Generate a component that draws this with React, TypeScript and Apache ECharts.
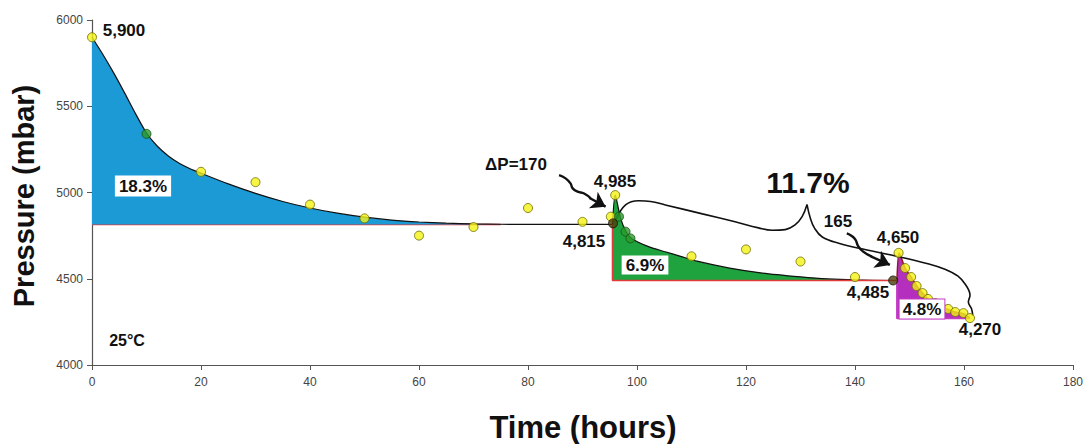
import React, { useEffect, useRef } from "react";
import * as echarts from "echarts";

// ---- data ----
const blueCurve: [number, number][] = [
  [0, 5900], [2, 5800], [4, 5692], [6, 5576], [8, 5456], [10, 5345], [12, 5268], [14, 5212],
  [16, 5170], [18, 5138], [20, 5112], [25, 5050], [30, 4995], [35, 4948], [40, 4910],
  [45, 4880], [50, 4857], [55, 4840], [60, 4829], [65, 4822], [70, 4818], [80, 4815], [95.5, 4815],
];
const greenCurve: [number, number][] = [
  [95.5, 4815], [96, 4985], [97, 4850], [98, 4772], [99, 4734], [102, 4688], [105, 4658],
  [108, 4630], [111, 4602], [117, 4562], [123, 4533], [130, 4511], [135, 4499], [140, 4493], [147, 4490],
];
const magentaCurve: [number, number][] = [
  [147.7, 4490], [148.1, 4650], [149.2, 4562], [150.3, 4510], [151.3, 4460], [152.4, 4417],
  [153.4, 4383], [154.7, 4359], [155.8, 4336], [157.1, 4322], [158.4, 4307], [159.9, 4298], [161.1, 4272],
];
const baseRed1: [number, number][] = [[0, 4815], [75, 4815]];
const greenOutline: [number, number][] = [[95.5, 4815], [95.5, 4490], [147.7, 4490]];
const magentaOutline: [number, number][] = [[147.7, 4490], [147.7, 4270], [161.1, 4270]];

const braceLeft: [number, number][] = [
  [96.1, 4840], [97.9, 4928], [100.3, 4952], [102.5, 4948], [105.2, 4928], [112, 4876],
  [118, 4830], [122.3, 4795], [124.8, 4781], [127.2, 4785], [129, 4812], [130.3, 4860], [131.2, 4930],
];
const braceRight: [number, number][] = [
  [131.2, 4930], [131.8, 4852], [132.6, 4792], [134, 4742], [137, 4706], [142, 4668],
  [148, 4628], [153, 4590], [156.5, 4555], [158.9, 4515], [160.3, 4465], [161.1, 4405],
  [160.8, 4365], [161.4, 4325], [161.6, 4285],
];
const dpShaft: [number, number][] = [
  [85.7, 5101], [86.9, 5082], [87.8, 5053], [88.2, 5024], [89.1, 5005], [90.3, 4994], [91.5, 4966],
];
const dpHead: [number, number][] = [[91.3, 4968], [94.24, 4918]];
const p165Shaft: [number, number][] = [
  [138.5, 4763], [139.4, 4748], [140.1, 4725], [140.6, 4688], [141.5, 4657], [143.1, 4628],
];
const p165Head: [number, number][] = [[142.9, 4630], [146.4, 4580]];

const yellowPoints: [number, number][] = [
  [0, 5900], [20, 5120], [30, 5060], [40, 4930], [50, 4850], [60, 4750], [70, 4800], [80, 4910],
  [90, 4830], [95.2, 4860], [96, 4985], [110, 4630], [120, 4670], [130, 4600], [140, 4510],
  [148, 4650], [149.2, 4562], [150.3, 4510], [151.3, 4458], [152.4, 4417], [153.4, 4383],
  [154.7, 4359], [155.8, 4336], [157.1, 4325], [158.4, 4307], [159.9, 4301], [161.1, 4272],
];
const greenPoints: [number, number][] = [[10, 5340], [96.7, 4860], [97.9, 4773], [98.8, 4734]];
const darkPoints: [number, number][] = [[95.6, 4821], [147, 4490]];

const xMin = 0, xMax = 180, xStep = 20;
const yMin = 4000, yMax = 6000, yStep = 500;

const FONT = '"Liberation Sans", Arial, Helvetica, sans-serif';
const BLUE = "#1B9AD6";
const GREEN = "#1FA33F";
const MAGENTA = "#B52FBF";
const RED = "#E23A3A";

function txt(text: string, x: number, y: number, size: number, extra: any = {}, more: any = {}) {
  return {
    type: "text",
    x,
    y,
    z: 100,
    ...more,
    style: {
      text,
      font: `bold ${size}px ${FONT}`,
      fill: "#111",
      align: "center",
      verticalAlign: "middle",
      ...extra,
    },
  };
}

export default function App() {
  const ref = useRef<HTMLDivElement>(null);
  useEffect(() => {
    if (!ref.current) return;
    const chart = echarts.init(ref.current, undefined, { renderer: "svg" });
    const lineBase = { type: "line", symbol: "none", silent: true, animation: false };
    chart.setOption({
      animation: false,
      backgroundColor: "#fff",
      grid: { left: 92, right: 11, top: 20, bottom: 79 },
      xAxis: {
        type: "value", min: xMin, max: xMax, interval: xStep,
        axisLine: { lineStyle: { color: "#555", width: 1.2 } },
        axisTick: { length: 5, lineStyle: { color: "#555" } },
        axisLabel: { color: "#444", fontSize: 12, fontFamily: FONT, margin: 11, formatter: (v: number) => String(v) },
        splitLine: { show: false },
      },
      yAxis: {
        type: "value", min: yMin, max: yMax, interval: yStep,
        axisLine: { show: true, lineStyle: { color: "#555", width: 1.2 } },
        axisTick: { show: true, length: 5, lineStyle: { color: "#555" } },
        axisLabel: { color: "#444", fontSize: 12, fontFamily: FONT, margin: 9, formatter: (v: number) => String(v) },
        splitLine: { show: false },
      },
      series: [
        { ...lineBase, data: baseRed1, lineStyle: { color: RED, width: 1.5 }, z: 1 },
        {
          ...lineBase, data: blueCurve, smooth: 0.25,
          lineStyle: { color: "#111", width: 1.2 },
          areaStyle: { color: BLUE, opacity: 1, origin: 4815 }, z: 2,
        },
        {
          ...lineBase, data: greenCurve, smooth: 0.25,
          lineStyle: { color: "#111", width: 1.2 },
          areaStyle: { color: GREEN, opacity: 1, origin: 4490 }, z: 2,
        },
        { ...lineBase, data: greenOutline, lineStyle: { color: RED, width: 1.5 }, z: 3 },
        {
          ...lineBase, data: magentaCurve, smooth: 0.25,
          lineStyle: { color: "#8E1B1B", width: 1.5 },
          areaStyle: { color: MAGENTA, opacity: 1, origin: 4270 }, z: 2,
        },
        { ...lineBase, data: magentaOutline, lineStyle: { color: "#C23DC4", width: 1.8 }, z: 3 },
        { ...lineBase, data: braceLeft, smooth: 0.4, lineStyle: { color: "#111", width: 1.6 }, z: 4 },
        { ...lineBase, data: braceRight, smooth: 0.4, lineStyle: { color: "#111", width: 1.6 }, z: 4 },
        { ...lineBase, data: dpShaft, smooth: 0.5, lineStyle: { color: "#111", width: 2.4 }, z: 4 },
        { ...lineBase, data: p165Shaft, smooth: 0.5, lineStyle: { color: "#111", width: 2.4 }, z: 4 },
        {
          type: "lines", coordinateSystem: "cartesian2d", silent: true, z: 4,
          symbol: ["none", "arrow"], symbolSize: 14,
          lineStyle: { color: "#111", width: 2.4, opacity: 1 },
          data: [{ coords: dpHead }, { coords: p165Head }],
        },
        {
          type: "scatter", data: yellowPoints, symbolSize: 9, silent: true, z: 5,
          itemStyle: { color: "#F4F215", borderColor: "#6f6a00", borderWidth: 1 },
        },
        {
          type: "scatter", data: greenPoints, symbolSize: 9, silent: true, z: 5,
          itemStyle: { color: "#2C9A2C", borderColor: "#145214", borderWidth: 1 },
        },
        {
          type: "scatter", data: darkPoints, symbolSize: 9, silent: true, z: 5,
          itemStyle: { color: "#4E3E0A", borderColor: "#111", borderWidth: 1 },
        },
      ],
      graphic: [
        txt("Pressure (mbar)", 24, 196, 29, {}, { rotation: Math.PI / 2 }),
        txt("Time (hours)", 583, 427, 31),
        txt("5,900", 124, 30, 17),
        txt("18.3%", 143, 186, 17, { backgroundColor: "#fff", padding: [3, 4, 1, 4] }),
        txt("25°C", 127, 340, 16),
        txt("ΔP=170", 516, 164, 17),
        txt("4,985", 615, 181, 17),
        txt("4,815", 584, 241, 17),
        txt("6.9%", 645, 265, 17, { backgroundColor: "#fff", padding: [2, 4, 0, 4] }),
        txt("11.7%", 808, 182, 30),
        txt("165", 838, 221, 17),
        txt("4,650", 898, 237, 17),
        txt("4,485", 868, 292, 17),
        txt("4.8%", 922, 309, 17, { backgroundColor: "#fff", padding: [2, 3, 0, 3], borderColor: "#C23DC4", borderWidth: 1 }),
        txt("4,270", 980, 329, 17),
      ],
    });
    return () => chart.dispose();
  }, []);
  return (
    <div
      ref={ref}
      style={{ position: "fixed", left: 0, top: 0, width: 1086, height: 444, background: "#fff" }}
    />
  );
}
